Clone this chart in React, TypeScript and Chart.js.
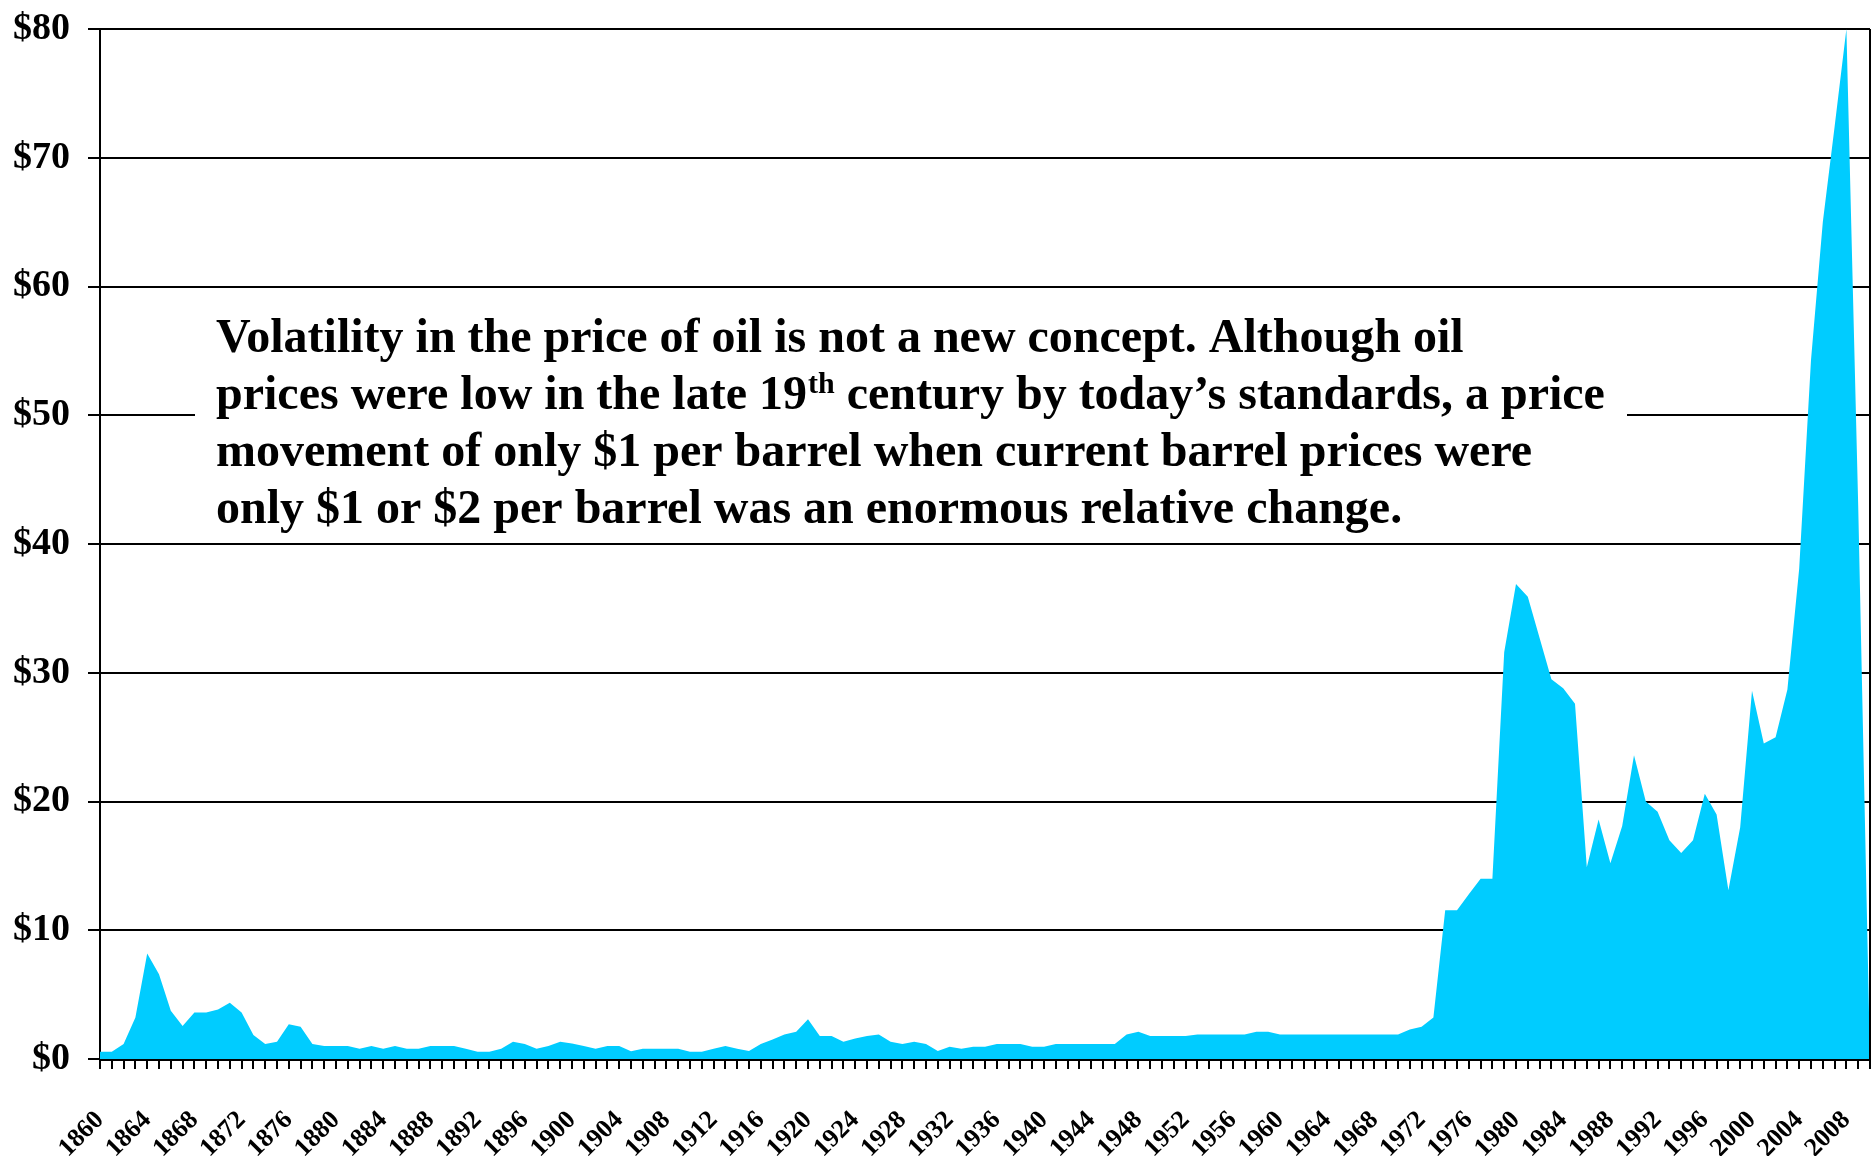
import React, { useEffect, useRef } from 'react';
import { Chart, registerables } from 'chart.js';

Chart.register(...registerables);

const years = [
  1860, 1861, 1862, 1863, 1864, 1865, 1866, 1867, 1868, 1869,
  1870, 1871, 1872, 1873, 1874, 1875, 1876, 1877, 1878, 1879,
  1880, 1881, 1882, 1883, 1884, 1885, 1886, 1887, 1888, 1889,
  1890, 1891, 1892, 1893, 1894, 1895, 1896, 1897, 1898, 1899,
  1900, 1901, 1902, 1903, 1904, 1905, 1906, 1907, 1908, 1909,
  1910, 1911, 1912, 1913, 1914, 1915, 1916, 1917, 1918, 1919,
  1920, 1921, 1922, 1923, 1924, 1925, 1926, 1927, 1928, 1929,
  1930, 1931, 1932, 1933, 1934, 1935, 1936, 1937, 1938, 1939,
  1940, 1941, 1942, 1943, 1944, 1945, 1946, 1947, 1948, 1949,
  1950, 1951, 1952, 1953, 1954, 1955, 1956, 1957, 1958, 1959,
  1960, 1961, 1962, 1963, 1964, 1965, 1966, 1967, 1968, 1969,
  1970, 1971, 1972, 1973, 1974, 1975, 1976, 1977, 1978, 1979,
  1980, 1981, 1982, 1983, 1984, 1985, 1986, 1987, 1988, 1989,
  1990, 1991, 1992, 1993, 1994, 1995, 1996, 1997, 1998, 1999,
  2000, 2001, 2002, 2003, 2004, 2005, 2006, 2007, 2008, 2009,
  2010,
];

// Oil price, $ per barrel
const prices = [
  0.57, 0.57, 1.16, 3.23, 8.19, 6.59, 3.75, 2.56, 3.62, 3.62,
  3.85, 4.37, 3.62, 1.86, 1.16, 1.34, 2.69, 2.51, 1.16, 1.01,
  1.01, 1.01, 0.8, 1.01, 0.8, 1.01, 0.8, 0.8, 1.01, 1.01,
  1.01, 0.8, 0.57, 0.57, 0.8, 1.34, 1.16, 0.8, 1.01, 1.34,
  1.2, 1.01, 0.8, 1.01, 1.01, 0.6, 0.8, 0.8, 0.8, 0.8,
  0.57, 0.57, 0.8, 1.01, 0.8, 0.62, 1.16, 1.52, 1.91, 2.12,
  3.08, 1.78, 1.78, 1.34, 1.6, 1.78, 1.91, 1.34, 1.16, 1.34,
  1.16, 0.62, 0.96, 0.8, 0.96, 0.96, 1.16, 1.16, 1.16, 0.96,
  0.96, 1.16, 1.16, 1.16, 1.16, 1.16, 1.16, 1.91, 2.12, 1.78,
  1.78, 1.78, 1.78, 1.91, 1.91, 1.91, 1.91, 1.91, 2.12, 2.12,
  1.91, 1.91, 1.91, 1.91, 1.91, 1.91, 1.91, 1.91, 1.91, 1.91,
  1.91, 2.3, 2.5, 3.23, 11.55, 11.55, 12.8, 14.0, 14.0, 31.6,
  36.9, 35.9, 32.7, 29.5, 28.8, 27.6, 14.9, 18.6, 15.2, 18.1,
  23.6, 20.0, 19.2, 17.0, 16.0, 17.0, 20.6, 19.0, 13.1, 18.0,
  28.6, 24.5, 25.0, 28.7, 38.1, 54.3, 65.0, 72.4, 80.0, 43.0,
  0,
];

const yMin = 0;
const yMax = 80;
const yStep = 10;
const labelEvery = 4;

const noteLine1 = 'Volatility in the price of oil is not a new concept. Although oil';
const noteLine2a = 'prices were low in the late 19';
const noteLine2sup = 'th';
const noteLine2b = ' century by today\u2019s standards, a price';
const noteLine3 = 'movement of only $1 per barrel when current barrel prices were';
const noteLine4 = 'only $1 or $2 per barrel was an enormous relative change.';

const FONT = "'Liberation Serif', 'Times New Roman', Times, serif";

export default function App() {
  const ref = useRef<HTMLCanvasElement>(null);

  useEffect(() => {
    document.body.style.margin = '0';
    const canvas = ref.current!;
    const ctx = canvas.getContext('2d')!;

    const noteBox = {
      id: 'noteBox',
      afterDatasetsDraw(chart: any) {
        const c = chart.ctx;
        const ys = chart.scales.y;
        const top = ys.getPixelForValue(58.9);
        const bottom = ys.getPixelForValue(40.2);
        const left = 195;
        const right = 1627;
        c.save();
        c.fillStyle = '#ffffff';
        c.fillRect(left, top, right - left, bottom - top);
        c.fillStyle = '#000000';
        c.textBaseline = 'alphabetic';
        c.textAlign = 'left';
        const x0 = 216;
        const b1 = 352;
        const lh = 57;
        c.font = `bold 48px ${FONT}`;
        c.fillText(noteLine1, x0, b1);
        c.fillText(noteLine2a, x0, b1 + lh);
        let x = x0 + c.measureText(noteLine2a).width;
        c.font = `bold 30px ${FONT}`;
        c.fillText(noteLine2sup, x + 1, b1 + lh - 16);
        x += c.measureText(noteLine2sup).width + 1;
        c.font = `bold 48px ${FONT}`;
        c.fillText(noteLine2b, x, b1 + lh);
        c.fillText(noteLine3, x0, b1 + 2 * lh);
        c.fillText(noteLine4, x0, b1 + 3 * lh);
        c.restore();
      },
    };

    const rightBorder = {
      id: 'rightBorder',
      afterDatasetsDraw(chart: any) {
        const c = chart.ctx;
        const a = chart.chartArea;
        c.save();
        c.strokeStyle = '#000';
        c.lineWidth = 2;
        c.beginPath();
        c.moveTo(a.right, a.top);
        c.lineTo(a.right, a.bottom);
        c.stroke();
        c.restore();
      },
    };

    const chart = new Chart(ctx, {
      type: 'line',
      data: {
        labels: years.map(String),
        datasets: [
          {
            data: prices,
            fill: 'origin',
            backgroundColor: '#00CCFF',
            borderColor: 'rgba(0,0,0,0)',
            borderWidth: 0,
            pointRadius: 0,
            tension: 0,
          },
        ],
      },
      options: {
        animation: false,
        responsive: false,
        devicePixelRatio: 1,
        layout: { padding: { top: 29, right: 3, left: 0, bottom: 0 } },
        plugins: {
          legend: { display: false },
          tooltip: { enabled: false },
        },
        scales: {
          x: {
            type: 'category',
            offset: false,
            grid: {
              drawOnChartArea: false,
              drawTicks: true,
              tickLength: 10,
              color: '#000',
              lineWidth: 2,
            },
            border: { display: true, color: '#000', width: 3 },
            ticks: {
              autoSkip: false,
              maxRotation: 45,
              minRotation: 45,
              padding: 36,
              color: '#000',
              font: { family: FONT, size: 26, weight: 'bold' },
              callback: (_v: any, i: number) =>
                (years[i] - years[0]) % labelEvery === 0 ? String(years[i]) : '',
            },
            afterFit: (s: any) => {
              s.height = 97;
              s.paddingLeft = 0;
              s.paddingRight = 0;
            },
          },
          y: {
            min: yMin,
            max: yMax,
            ticks: {
              stepSize: yStep,
              padding: 18,
              color: '#000',
              font: { family: FONT, size: 38, weight: 'bold' },
              callback: (v: any) => '$' + v,
            },
            grid: { color: '#000', lineWidth: 2, tickLength: 12 },
            border: { display: true, color: '#000', width: 2 },
            afterFit: (s: any) => {
              s.width = 100;
              s.paddingTop = 0;
              s.paddingBottom = 0;
            },
          },
        },
      } as any,
      plugins: [noteBox, rightBorder],
    });

    return () => chart.destroy();
  }, []);

  return (
    <canvas
      ref={ref}
      width={1873}
      height={1156}
      style={{ display: 'block', position: 'fixed', left: 0, top: 0 }}
    />
  );
}
